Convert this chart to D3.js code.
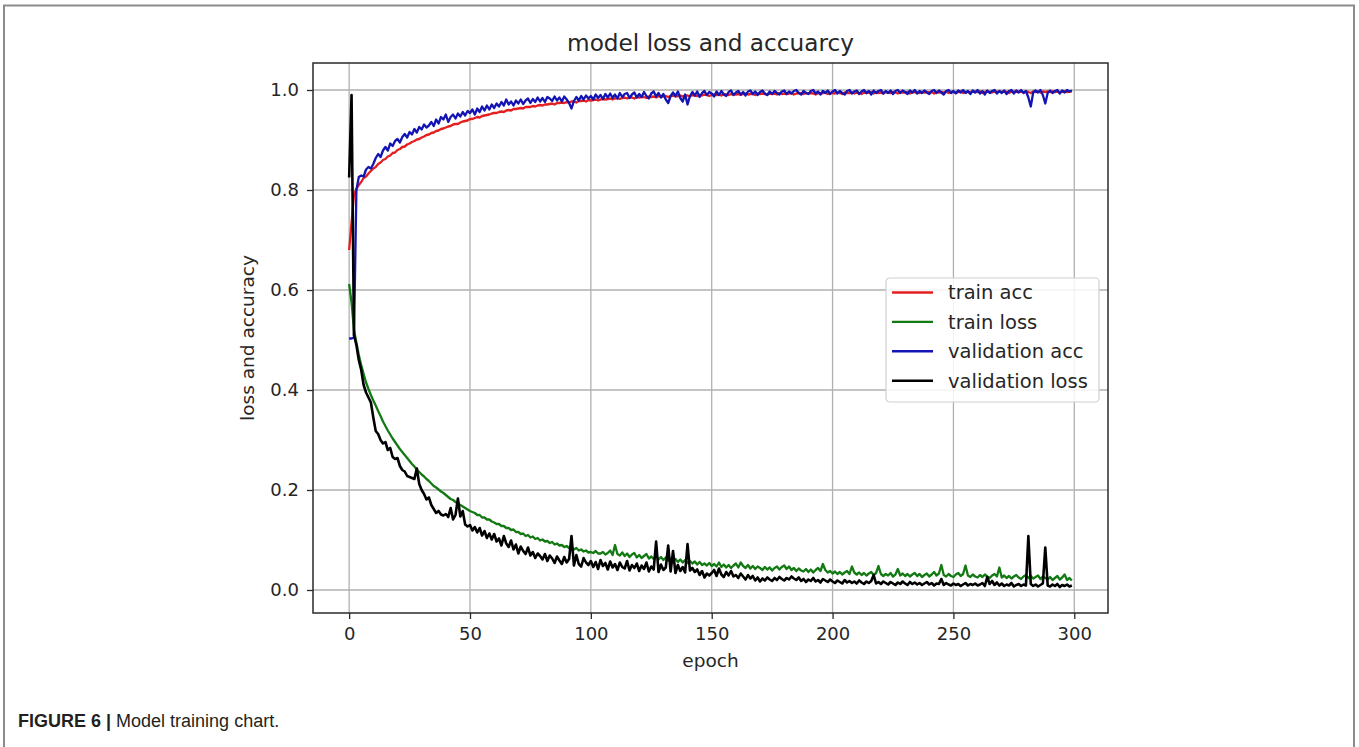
<!DOCTYPE html>
<html><head><meta charset="utf-8">
<script src="https://cdn.jsdelivr.net/npm/d3@7"></script>
<style>html,body{margin:0;padding:0;background:#fff;} svg{display:block;}</style>
</head><body>
<svg id="chart" width="1359" height="747"></svg>
<script>
// ---------------- data (epoch = array index, 0..299) ----------------
const chartTitle = "model loss and accuarcy";
const xLabel = "epoch";
const yLabel = "loss and accuracy";
const seriesNames = ["train acc", "train loss", "validation acc", "validation loss"];
const xTickValues = [0, 50, 100, 150, 200, 250, 300];
const yTickValues = [0.0, 0.2, 0.4, 0.6, 0.8, 1.0];

const trainAcc = [
0.680,0.735,0.790,0.802,0.810,0.816,0.824,0.827,0.833,0.838,
0.843,0.846,0.852,0.855,0.860,0.862,0.867,0.869,0.874,0.875,
0.880,0.882,0.886,0.887,0.891,0.893,0.896,0.898,0.901,0.902,
0.905,0.907,0.910,0.911,0.914,0.915,0.918,0.919,0.922,0.923,
0.925,0.927,0.928,0.931,0.932,0.932,0.935,0.937,0.938,0.939,
0.942,0.942,0.944,0.946,0.945,0.948,0.949,0.950,0.951,0.953,
0.954,0.954,0.956,0.957,0.956,0.959,0.960,0.959,0.962,0.962,
0.963,0.964,0.963,0.966,0.966,0.966,0.968,0.967,0.969,0.970,
0.969,0.971,0.971,0.972,0.973,0.971,0.974,0.974,0.975,0.974,
0.976,0.975,0.977,0.977,0.975,0.978,0.978,0.979,0.977,0.980,
0.979,0.980,0.981,0.979,0.981,0.982,0.981,0.982,0.983,0.981,
0.983,0.984,0.982,0.984,0.985,0.983,0.985,0.985,0.983,0.986,
0.985,0.986,0.986,0.984,0.987,0.986,0.987,0.985,0.988,0.987,
0.987,0.988,0.986,0.988,0.989,0.987,0.988,0.989,0.987,0.989,
0.989,0.987,0.990,0.989,0.988,0.990,0.989,0.991,0.990,0.988,
0.990,0.991,0.990,0.991,0.989,0.992,0.991,0.990,0.992,0.991,
0.991,0.992,0.990,0.992,0.993,0.991,0.992,0.992,0.990,0.993,
0.992,0.993,0.992,0.991,0.993,0.992,0.993,0.991,0.994,0.992,
0.993,0.992,0.993,0.994,0.991,0.993,0.994,0.993,0.992,0.994,
0.993,0.994,0.993,0.991,0.994,0.993,0.994,0.995,0.992,0.994,
0.994,0.993,0.995,0.994,0.992,0.995,0.994,0.994,0.995,0.993,
0.995,0.994,0.992,0.995,0.994,0.995,0.996,0.993,0.995,0.994,
0.995,0.993,0.996,0.995,0.994,0.996,0.995,0.993,0.996,0.995,
0.995,0.996,0.993,0.995,0.996,0.995,0.994,0.996,0.995,0.996,
0.995,0.996,0.993,0.996,0.995,0.996,0.995,0.997,0.994,0.996,
0.996,0.995,0.996,0.997,0.994,0.996,0.996,0.995,0.997,0.996,
0.996,0.997,0.994,0.996,0.997,0.996,0.995,0.997,0.996,0.997,
0.996,0.997,0.996,0.994,0.997,0.996,0.997,0.996,0.997,0.995,
0.997,0.996,0.994,0.997,0.996,0.997,0.995,0.997,0.996,0.997,
0.996,0.997,0.996,0.997,0.995,0.997,0.997,0.996,0.997,0.997
];

const trainLoss = [
0.612,0.575,0.520,0.495,0.470,0.450,0.432,0.415,0.402,0.390,
0.379,0.369,0.358,0.348,0.337,0.328,0.319,0.311,0.303,0.296,
0.289,0.282,0.276,0.270,0.264,0.258,0.252,0.247,0.241,0.236,
0.231,0.227,0.222,0.218,0.213,0.208,0.205,0.201,0.197,0.194,
0.190,0.186,0.182,0.180,0.176,0.173,0.170,0.167,0.164,0.161,
0.158,0.156,0.154,0.150,0.150,0.145,0.145,0.141,0.141,0.137,
0.135,0.132,0.132,0.128,0.128,0.124,0.124,0.120,0.121,0.116,
0.116,0.112,0.113,0.108,0.110,0.105,0.107,0.102,0.104,0.099,
0.101,0.097,0.098,0.094,0.096,0.091,0.093,0.089,0.090,0.086,
0.088,0.084,0.086,0.081,0.084,0.079,0.081,0.077,0.079,0.075,
0.076,0.074,0.078,0.073,0.073,0.076,0.071,0.074,0.079,0.070,
0.090,0.072,0.069,0.075,0.068,0.073,0.066,0.071,0.074,0.065,
0.070,0.064,0.068,0.072,0.063,0.067,0.062,0.069,0.061,0.066,
0.060,0.065,0.059,0.063,0.057,0.062,0.056,0.061,0.055,0.060,
0.054,0.058,0.053,0.057,0.051,0.056,0.050,0.053,0.049,0.054,
0.048,0.052,0.047,0.055,0.046,0.051,0.045,0.050,0.044,0.049,
0.053,0.045,0.055,0.048,0.044,0.050,0.043,0.048,0.042,0.047,
0.044,0.040,0.046,0.041,0.045,0.039,0.044,0.047,0.041,0.046,
0.049,0.042,0.047,0.040,0.044,0.038,0.043,0.039,0.037,0.042,
0.036,0.041,0.035,0.040,0.044,0.038,0.052,0.040,0.035,0.038,
0.033,0.037,0.032,0.036,0.031,0.035,0.038,0.032,0.047,0.035,
0.031,0.035,0.030,0.034,0.029,0.033,0.036,0.030,0.034,0.048,
0.032,0.028,0.032,0.029,0.034,0.027,0.031,0.042,0.029,0.033,
0.028,0.032,0.027,0.031,0.034,0.028,0.032,0.026,0.030,0.033,
0.027,0.031,0.036,0.029,0.033,0.050,0.030,0.027,0.032,0.028,
0.026,0.031,0.034,0.028,0.032,0.049,0.029,0.026,0.031,0.027,
0.025,0.030,0.026,0.031,0.027,0.024,0.029,0.032,0.027,0.045,
0.025,0.029,0.024,0.028,0.023,0.027,0.030,0.025,0.022,0.027,
0.030,0.024,0.028,0.023,0.026,0.029,0.022,0.027,0.024,0.021,
0.026,0.020,0.024,0.028,0.021,0.025,0.031,0.020,0.024,0.019
];

const valAcc = [
0.503,0.503,0.505,0.800,0.826,0.829,0.827,0.841,0.846,0.843,
0.852,0.864,0.872,0.866,0.879,0.886,0.879,0.893,0.888,0.898,
0.902,0.895,0.906,0.912,0.905,0.916,0.911,0.922,0.915,0.926,
0.921,0.931,0.925,0.929,0.936,0.928,0.941,0.933,0.946,0.941,
0.951,0.936,0.946,0.951,0.943,0.953,0.947,0.956,0.949,0.958,
0.954,0.961,0.951,0.963,0.956,0.967,0.959,0.969,0.961,0.971,
0.964,0.973,0.967,0.976,0.969,0.981,0.971,0.977,0.969,0.979,
0.973,0.981,0.972,0.979,0.983,0.974,0.982,0.976,0.985,0.977,
0.984,0.976,0.986,0.983,0.978,0.987,0.979,0.985,0.977,0.987,
0.981,0.974,0.963,0.978,0.986,0.979,0.988,0.981,0.989,0.983,
0.988,0.981,0.991,0.984,0.990,0.982,0.992,0.985,0.993,0.984,
0.991,0.983,0.994,0.986,0.992,0.994,0.984,0.991,0.995,0.985,
0.992,0.986,0.996,0.988,0.983,0.993,0.997,0.987,0.994,0.985,
0.992,0.981,0.974,0.988,0.995,0.988,0.997,0.984,0.977,0.991,
0.971,0.988,0.996,0.989,0.997,0.986,0.994,0.998,0.990,0.996,
0.993,0.987,0.997,0.990,0.998,0.991,0.988,0.996,0.999,0.990,
0.995,0.998,0.991,0.996,0.989,0.997,0.999,0.992,0.997,0.990,
0.996,0.999,0.993,0.990,0.997,0.992,0.998,0.994,0.991,0.997,
0.999,0.992,0.997,0.993,0.998,1.000,0.994,0.991,0.998,0.994,
0.992,0.998,1.000,0.993,0.997,0.991,0.998,0.994,0.999,0.992,
0.997,1.000,0.993,0.998,0.994,0.991,0.998,1.000,0.993,0.997,
0.999,0.992,0.997,1.000,0.994,0.998,0.991,0.999,0.994,0.998,
1.000,0.993,0.998,0.994,0.999,0.992,0.998,1.000,0.994,0.999,
0.996,0.992,0.999,0.995,1.000,0.993,0.998,0.994,0.999,0.995,
0.992,0.998,1.000,0.994,0.999,0.995,0.991,0.998,1.000,0.994,
0.998,0.993,0.999,0.995,1.000,0.994,0.998,0.992,0.999,0.995,
1.000,0.993,0.998,0.991,0.999,0.994,0.998,1.000,0.993,0.998,
0.994,0.999,0.992,0.998,1.000,0.993,0.999,0.995,1.000,0.994,
0.998,0.985,0.967,0.995,0.999,0.995,1.000,0.990,0.973,0.994,
0.999,0.994,0.998,1.000,0.993,0.999,0.995,1.000,0.997,0.999
];

const valLoss = [
0.825,0.990,0.510,0.490,0.460,0.440,0.410,0.395,0.385,0.375,
0.345,0.318,0.312,0.300,0.293,0.296,0.280,0.284,0.266,0.262,
0.264,0.248,0.240,0.237,0.228,0.226,0.224,0.222,0.243,0.212,
0.200,0.192,0.181,0.185,0.170,0.162,0.154,0.158,0.151,0.149,
0.152,0.146,0.164,0.141,0.150,0.183,0.147,0.158,0.131,0.127,
0.130,0.119,0.126,0.115,0.124,0.109,0.118,0.104,0.113,0.101,
0.112,0.097,0.103,0.089,0.108,0.093,0.086,0.099,0.081,0.091,
0.073,0.087,0.078,0.072,0.085,0.069,0.076,0.064,0.073,0.068,
0.061,0.072,0.058,0.069,0.063,0.054,0.067,0.059,0.052,0.066,
0.055,0.062,0.108,0.049,0.070,0.052,0.047,0.064,0.055,0.050,
0.058,0.046,0.056,0.042,0.060,0.048,0.054,0.041,0.057,0.045,
0.052,0.040,0.055,0.046,0.043,0.058,0.039,0.050,0.044,0.053,
0.038,0.049,0.042,0.055,0.037,0.047,0.041,0.097,0.036,0.051,
0.040,0.045,0.089,0.037,0.078,0.034,0.050,0.038,0.046,0.035,
0.092,0.039,0.044,0.036,0.041,0.030,0.038,0.025,0.033,0.029,
0.034,0.040,0.028,0.043,0.031,0.026,0.036,0.029,0.038,0.027,
0.030,0.024,0.033,0.027,0.021,0.030,0.023,0.028,0.019,0.025,
0.017,0.023,0.019,0.025,0.021,0.018,0.024,0.020,0.026,0.022,
0.019,0.024,0.021,0.027,0.023,0.020,0.025,0.018,0.022,0.016,
0.021,0.018,0.024,0.017,0.020,0.015,0.022,0.019,0.016,0.021,
0.017,0.014,0.019,0.016,0.013,0.020,0.015,0.018,0.014,0.017,
0.013,0.019,0.015,0.012,0.017,0.014,0.018,0.030,0.013,0.016,
0.012,0.017,0.014,0.011,0.016,0.013,0.010,0.015,0.012,0.017,
0.013,0.010,0.016,0.012,0.015,0.011,0.014,0.010,0.013,0.016,
0.011,0.014,0.009,0.013,0.012,0.022,0.010,0.014,0.011,0.009,
0.013,0.010,0.012,0.008,0.011,0.014,0.009,0.012,0.010,0.013,
0.009,0.011,0.014,0.008,0.026,0.012,0.018,0.010,0.015,0.009,
0.013,0.008,0.011,0.009,0.014,0.007,0.010,0.012,0.008,0.011,
0.009,0.108,0.012,0.008,0.011,0.007,0.010,0.013,0.085,0.009,
0.007,0.011,0.008,0.012,0.006,0.010,0.008,0.011,0.007,0.009
];

const seriesColors = ["#e41f1f", "#137a13", "#1414b4", "#000000"];
const captionBold = "FIGURE 6 | ";
const captionText = "Model training chart.";

// ---------------- drawing ----------------
const svg = d3.select("#chart");
const W = 1359, H = 747;
const plot = {left: 313, right: 1108, top: 63, bottom: 613};
const FONT = "'DejaVu Sans', sans-serif";
const TXT = "#262626";

// page frame (journal figure box)
svg.append("path")
  .attr("d", `M4,${H}V5.5H1354V${H}`)
  .attr("fill", "none").attr("stroke", "#8c8c8c").attr("stroke-width", 2);

const n = trainAcc.length;
const x = d3.scaleLinear().domain([0 - 0.05 * (n - 1), (n - 1) * 1.05]).range([plot.left, plot.right]);
const y = d3.scaleLinear().domain([-0.046, 1.054]).range([plot.bottom, plot.top]);

// grid
const grid = svg.append("g").attr("stroke", "#b0b0b0").attr("stroke-width", 1.3);
grid.selectAll("line.gx").data(xTickValues).join("line")
  .attr("x1", d => x(d)).attr("x2", d => x(d))
  .attr("y1", plot.top).attr("y2", plot.bottom);
grid.selectAll("line.gy").data(yTickValues).join("line")
  .attr("y1", d => y(d)).attr("y2", d => y(d))
  .attr("x1", plot.left).attr("x2", plot.right);

// series
const allSeries = [trainAcc, trainLoss, valAcc, valLoss];
const line = d3.line().x((d, i) => x(i)).y(d => y(d));
svg.append("g").selectAll("path").data(allSeries).join("path")
  .attr("d", line)
  .attr("fill", "none")
  .attr("stroke", (d, i) => seriesColors[i])
  .attr("stroke-width", (d, i) => i === 3 ? 2.6 : 2.3)
  .attr("stroke-linejoin", "round");

// frame
svg.append("rect")
  .attr("x", plot.left).attr("y", plot.top)
  .attr("width", plot.right - plot.left).attr("height", plot.bottom - plot.top)
  .attr("fill", "none").attr("stroke", "#2a2a2a").attr("stroke-width", 1.5);

// axes
const xAxis = svg.append("g").attr("transform", `translate(0,${plot.bottom})`)
  .call(d3.axisBottom(x).tickValues(xTickValues).tickSize(6).tickPadding(8).tickFormat(d3.format("d")));
const yAxis = svg.append("g").attr("transform", `translate(${plot.left},0)`)
  .call(d3.axisLeft(y).tickValues(yTickValues).tickSize(6).tickPadding(8).tickFormat(d3.format(".1f")));
[xAxis, yAxis].forEach(a => {
  a.select(".domain").remove();
  a.selectAll(".tick line").attr("stroke", "#2a2a2a").attr("stroke-width", 1.3);
  a.selectAll(".tick text").attr("fill", TXT).style("font-family", FONT).style("font-size", "18px");
});

// title & labels
svg.append("text").attr("x", (plot.left + plot.right) / 2).attr("y", 51)
  .attr("text-anchor", "middle").attr("fill", TXT)
  .style("font-family", FONT).style("font-size", "23.2px").text(chartTitle);
svg.append("text").attr("x", (plot.left + plot.right) / 2).attr("y", 667)
  .attr("text-anchor", "middle").attr("fill", TXT)
  .style("font-family", FONT).style("font-size", "18.5px").text(xLabel);
svg.append("text")
  .attr("transform", `translate(254,${(plot.top + plot.bottom) / 2}) rotate(-90)`)
  .attr("text-anchor", "middle").attr("fill", TXT)
  .style("font-family", FONT).style("font-size", "18.5px").text(yLabel);

// legend
const lg = {w: 213, h: 124};
const lgX = plot.right - 9 - lg.w;
const lgY = (plot.top + plot.bottom) / 2 + 2 - lg.h / 2;
const legend = svg.append("g").attr("transform", `translate(${lgX},${lgY})`);
legend.append("rect").attr("width", lg.w).attr("height", lg.h).attr("rx", 4)
  .attr("fill", "#ffffff").attr("fill-opacity", 0.85)
  .attr("stroke", "#d0d0d0").attr("stroke-width", 1.2);
const items = legend.selectAll("g.item").data(seriesNames).join("g")
  .attr("transform", (d, i) => `translate(0,${14.5 + i * 29.4})`);
items.append("line").attr("x1", 6).attr("x2", 47).attr("y1", 0).attr("y2", 0)
  .attr("stroke", (d, i) => seriesColors[i]).attr("stroke-width", 2.4);
items.append("text").attr("x", 62).attr("y", 0).attr("dy", "0.35em")
  .attr("fill", TXT).style("font-family", FONT).style("font-size", "19.5px").text(d => d);

// caption
const cap = svg.append("text").attr("x", 18).attr("y", 727)
  .attr("fill", "#231f20").style("font-family", "'Liberation Sans', Arial, sans-serif").style("font-size", "18px");
cap.append("tspan").style("font-weight", "bold").text(captionBold);
cap.append("tspan").text(captionText);
</script>
</body></html>
